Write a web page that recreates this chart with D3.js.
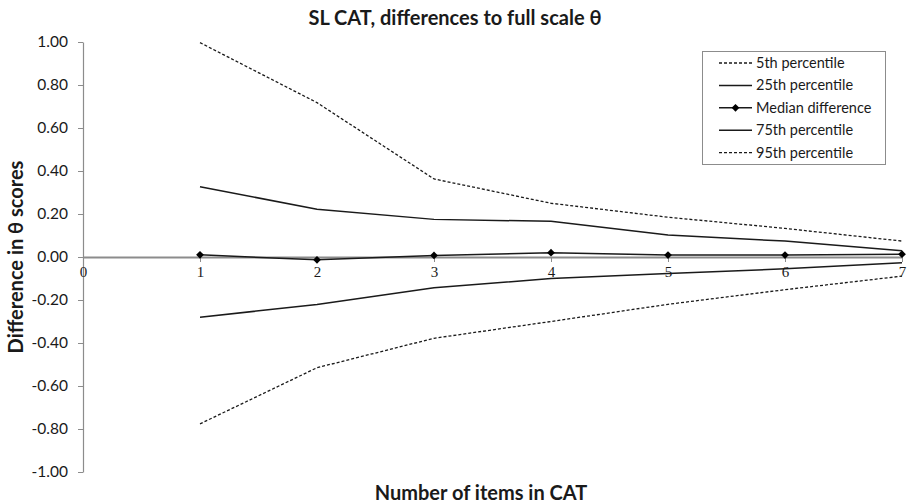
<!DOCTYPE html>
<html>
<head>
<meta charset="utf-8">
<script src="https://cdn.jsdelivr.net/npm/d3@7"></script>
<style>
  html, body { margin: 0; padding: 0; background: #fff; }
  svg { display: block; }
  .axis path, .axis line { stroke: #8c8c8c; }
</style>
</head>
<body>
<svg id="chart" width="910" height="504"></svg>
<script>
// Number of items administered in the CAT
const items = [1, 2, 3, 4, 5, 6, 7];

// Percentiles of the difference between CAT and full-scale theta
const p5 = [-0.776, -0.515, -0.378, -0.300, -0.220, -0.152, -0.089];
const p25 = [-0.280, -0.221, -0.143, -0.100, -0.077, -0.055, -0.027];
const median = [0.010, -0.013, 0.007, 0.020, 0.009, 0.009, 0.013];
const p75 = [0.327, 0.222, 0.175, 0.166, 0.102, 0.074, 0.029];
const p95 = [0.997, 0.718, 0.363, 0.250, 0.185, 0.133, 0.074];

const xTicks = [0, 1, 2, 3, 4, 5, 6, 7];
const yTicks = [1.0, 0.8, 0.6, 0.4, 0.2, 0.0, -0.2, -0.4, -0.6, -0.8, -1.0];

const seriesNames = ["5th percentile", "25th percentile", "Median difference", "75th percentile", "95th percentile"];
const seriesValues = [p5, p25, median, p75, p95];
const seriesDash = ["3,2", null, null, null, "3,2"];
const seriesMarker = [false, false, true, false, false];

const svg = d3.select("#chart");
const ink = "#1a1a1a";
const sansFont = "Lato, 'Open Sans', sans-serif";

const x = d3.scaleLinear().domain([0, 7]).range([83, 902]);
const y = d3.scaleLinear().domain([-1, 1]).range([472, 42]);

// Diamond marker: a square turned 45 degrees
const diamond = d3.symbol(d3.symbolSquare, 30)();

// Title
svg.append("text")
  .attr("x", 455).attr("y", 25)
  .attr("text-anchor", "middle")
  .attr("font-family", sansFont)
  .attr("font-weight", "bold")
  .attr("font-size", 20)
  .attr("fill", ink)
  .text("SL CAT, differences to full scale θ");

// Y axis
const fmt = v => d3.format(".2f")(v).replace("−", "-");
const yAxis = svg.append("g")
  .attr("class", "axis")
  .attr("transform", `translate(${x(0)},0)`)
  .call(d3.axisLeft(y).tickValues(yTicks).tickFormat(fmt).tickSize(5).tickSizeOuter(0).tickPadding(10));
yAxis.select(".domain").attr("stroke-width", 1.2);
yAxis.selectAll("text")
  .attr("font-family", sansFont)
  .attr("font-size", 15.5)
  .attr("fill", ink);

// X axis along zero
const xAxis = svg.append("g")
  .attr("class", "axis")
  .attr("transform", `translate(0,${y(0)})`)
  .call(d3.axisBottom(x).tickValues(xTicks).tickFormat(d3.format("d")).tickSize(5).tickSizeOuter(0).tickPadding(4));
xAxis.select(".domain").attr("stroke-width", 2);
xAxis.selectAll(".tick line").attr("stroke", "#555");
xAxis.selectAll("text")
  .attr("font-family", "'Liberation Serif', 'DejaVu Serif', serif")
  .attr("font-size", 15)
  .attr("fill", ink);

// Axis titles
svg.append("text")
  .attr("transform", `translate(23,${y(0)}) rotate(-90)`)
  .attr("text-anchor", "middle")
  .attr("font-family", sansFont)
  .attr("font-weight", "bold")
  .attr("font-size", 20)
  .attr("fill", ink)
  .text("Difference in θ scores");

svg.append("text")
  .attr("x", 481).attr("y", 500)
  .attr("text-anchor", "middle")
  .attr("font-family", sansFont)
  .attr("font-weight", "bold")
  .attr("font-size", 20)
  .attr("fill", ink)
  .text("Number of items in CAT");

// Series lines
const line = d3.line().x((d, i) => x(items[i])).y(d => y(d));
seriesValues.forEach((vals, k) => {
  svg.append("path")
    .datum(vals)
    .attr("d", line)
    .attr("fill", "none")
    .attr("stroke", ink)
    .attr("stroke-width", seriesDash[k] ? 1.3 : 1.5)
    .attr("stroke-dasharray", seriesDash[k]);
  if (seriesMarker[k]) {
    svg.append("g").selectAll("path")
      .data(vals)
      .join("path")
      .attr("transform", (d, i) => `translate(${x(items[i])},${y(d)}) rotate(45)`)
      .attr("d", diamond)
      .attr("fill", "#000");
  }
});

// Legend
const legend = svg.append("g");
legend.append("rect")
  .attr("x", 702.5).attr("y", 51.5)
  .attr("width", 183).attr("height", 113)
  .attr("fill", "#fff")
  .attr("stroke", "#8c8c8c");
seriesNames.forEach((name, k) => {
  const ly = 63 + k * 22.4;
  legend.append("line")
    .attr("x1", 719).attr("x2", 752)
    .attr("y1", ly).attr("y2", ly)
    .attr("stroke", ink)
    .attr("stroke-width", seriesDash[k] ? 1.3 : 1.5)
    .attr("stroke-dasharray", seriesDash[k]);
  if (seriesMarker[k]) {
    legend.append("path")
      .attr("transform", `translate(735.5,${ly}) rotate(45)`)
      .attr("d", diamond)
      .attr("fill", "#000");
  }
  legend.append("text")
    .attr("x", 756).attr("y", ly)
    .attr("dy", "0.35em")
    .attr("font-family", sansFont)
    .attr("font-size", 14.5)
    .attr("fill", ink)
    .text(name);
});
</script>
</body>
</html>
